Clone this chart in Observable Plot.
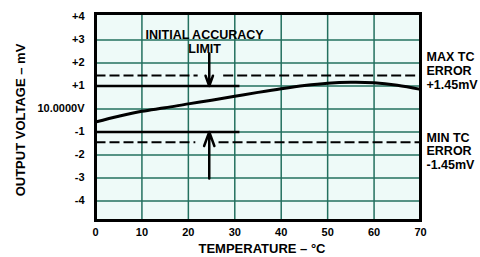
<!DOCTYPE html>
<html>
<head>
<meta charset="utf-8">
<script src="https://cdn.jsdelivr.net/npm/d3@7"></script>
<script src="https://cdn.jsdelivr.net/npm/@observablehq/plot@0.6"></script>
<style>html,body{margin:0}</style>
</head>
<body>
<div id="chart"></div>
<script>
// ---- data ----
const temps = [0, 5, 10, 15, 20, 25, 30, 35, 40, 45, 50, 55, 60, 65, 70];
const volts = [-0.57, -0.32, -0.1, 0.05, 0.22, 0.38, 0.55, 0.72, 0.88, 1.02, 1.12, 1.16, 1.14, 1.03, 0.85];

const yTicks = [-4, -3, -2, -1, 0, 1, 2, 3, 4];
const yTickLabels = ["-4", "-3", "-2", "-1", "10.0000V", "+1", "+2", "+3", "+4"];
const yGrid = [-4, -3, -2, -1, 0, 1, 2, 3];
const xTicks = [0, 10, 20, 30, 40, 50, 60, 70];
const xGrid = [10, 20, 30, 40, 50, 60];
const xDomain = [0, 70];
const yDomain = [-4.85, 4.15];

const tcError = 1.45;                              // max / min TC error, mV
const dashSegments = [[0, 22], [27.5, 70]];        // upper dashed line pieces (°C)
const dashSegmentsLow = [[0, 21.5], [26.5, 70]];   // lower dashed line pieces (°C)
const accuracyLimit = 1;                           // initial accuracy limit, mV
const accuracyLimitEnd = 31;                       // °C extent of the limit lines
const arrowT = 24.5;                               // arrow position, °C
const arrowTop = 2.41;
const arrowBottom = -3.02;

const curve = temps.map((t, i) => ({t, v: volts[i]}));
const gridColor = "#23705f";
const segs = [
  ...dashSegments.map(([a, b]) => ({a, b, v: tcError})),
  ...dashSegmentsLow.map(([a, b]) => ({a, b, v: -tcError}))
];
const limits = [accuracyLimit, -accuracyLimit].map(v => ({a: 0, b: accuracyLimitEnd, v}));
const arrows = [
  {x: arrowT, y1: arrowTop, y2: accuracyLimit},
  {x: arrowT, y1: arrowBottom, y2: -accuracyLimit}
];
const font = "'Liberation Sans', Arial, Helvetica, sans-serif";

const chart = Plot.plot({
  width: 480, height: 257, marginLeft: 95, marginRight: 60, marginTop: 13, marginBottom: 37,
  x: {domain: xDomain, axis: null},
  y: {domain: yDomain, axis: null},
  style: {fontFamily: font, fontSize: "11px", fontWeight: "bold", background: "#fff", color: "#000"},
  marks: [
    Plot.frame({fill: "none", stroke: "none"}),
    Plot.frame({fill: "none", stroke: "none"}),
    Plot.frame({fill: "none", stroke: "none"}),
    Plot.frame({fill: "#eefaf8", stroke: "none"}),
    Plot.ruleY(yGrid, {stroke: gridColor, strokeWidth: 1.5}),
    Plot.ruleX(xGrid, {stroke: gridColor, strokeWidth: 1.5}),
    Plot.axisY(yTicks, {tickSize: 0, tickPadding: 11, tickFormat: (d) => yTickLabels[yTicks.indexOf(d)], fontSize: 11, fontWeight: "bold", label: null}),
    Plot.axisX(xTicks, {tickSize: 0, tickPadding: 8, fontSize: 11, fontWeight: "bold", label: null}),
    Plot.link(segs, {x1: "a", x2: "b", y1: "v", y2: "v", stroke: "#000", strokeWidth: 2, strokeDasharray: "10,4"}),
    Plot.link(limits, {x1: "a", x2: "b", y1: "v", y2: "v", stroke: "#000", strokeWidth: 2.6}),
    Plot.line(curve, {x: "t", y: "v", stroke: "#000", strokeWidth: 3, curve: "catmull-rom"}),
    Plot.arrow(arrows, {x1: "x", x2: "x", y1: "y1", y2: "y2", stroke: "#000", strokeWidth: 2.5, headLength: 9, headAngle: 40}),
    Plot.frame({stroke: "#000", strokeWidth: 3}),
    Plot.text(["INITIAL ACCURACY\nLIMIT"], {x: 23.5, y: 2.93, fontSize: 12.5, lineHeight: 1.12}),
    Plot.text(["MAX TC\nERROR\n+1.45mV"], {x: 70, y: 1.67, dx: 6, fontSize: 12.5, lineHeight: 1.1, textAnchor: "start"}),
    Plot.text(["MIN TC\nERROR\n-1.45mV"], {x: 70, y: -1.83, dx: 6, fontSize: 12.5, lineHeight: 1.1, textAnchor: "start"}),
    Plot.text(["OUTPUT VOLTAGE – mV"], {frameAnchor: "left", dx: -75, dy: 3, rotate: -90, fontSize: 13, textAnchor: "middle", lineAnchor: "middle"}),
    Plot.text(["TEMPERATURE – °C"], {frameAnchor: "bottom", dy: 28, dx: 4, fontSize: 13, textAnchor: "middle", lineAnchor: "middle"})
  ]
});
document.getElementById("chart").appendChild(chart);
</script>
</body>
</html>
